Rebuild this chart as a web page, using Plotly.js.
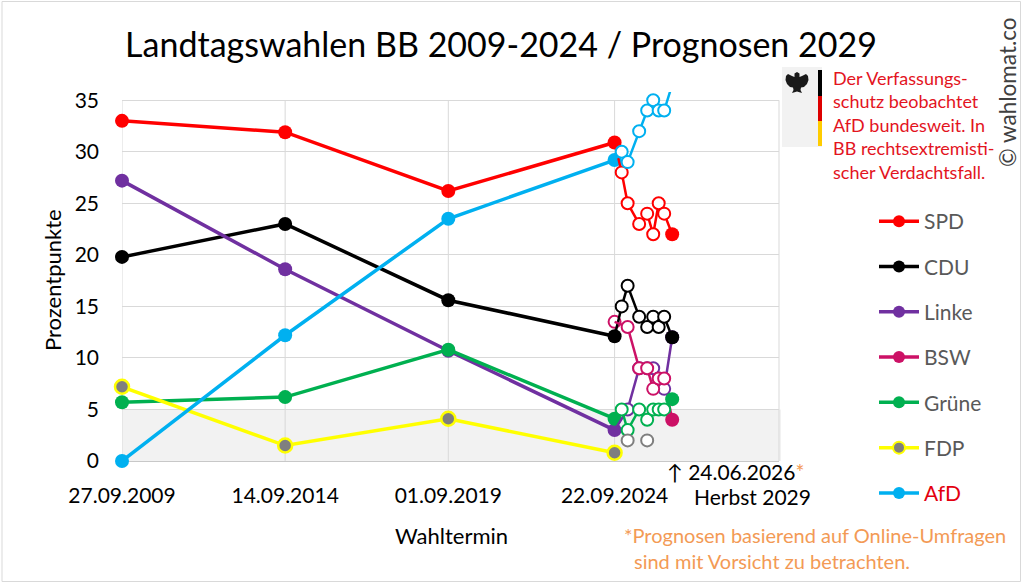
<!DOCTYPE html>
<html><head><meta charset="utf-8">
<script src="https://cdn.plot.ly/plotly-3.0.1.min.js"></script>
<style>html,body{margin:0;padding:0;background:#fff}#chart{width:1024px;height:584px}</style>
</head><body><div id="chart"></div>
<script>
// ---------- data ----------
const electionDates = ['2009-09-27','2014-09-14','2019-09-01','2024-09-22'];
const electionLabels = ['27.09.2009','14.09.2014','01.09.2019','22.09.2024'];
const pollDates = ['2024-12-10','2025-02-14','2025-06-22','2025-09-19','2025-11-25','2026-01-25','2026-03-27'];
const forecastDate = '2026-06-24';
const forecastLabel = '24.06.2026';
const endLabel = 'Herbst 2029';

const spdResults   = [33.0, 31.9, 26.2, 30.9];
const spdPolls     = [28, 25, 23, 24, 22, 25, 24];
const spdForecast  = 22;

const cduResults   = [19.8, 23.0, 15.6, 12.1];
const cduPolls     = [15, 17, 14, 13, 14, 13, 14];
const cduForecast  = 12;

const linkeResults = [27.2, 18.6, 10.7, 3.0];
const linkePolls   = [null, 5, 9, 9, 9, 8, 7];
const linkeForecast = 12;

const bswResults   = [null, null, null, 13.5];
const bswPolls     = [null, 13, 9, 9, 7, 8, 8];
const bswForecast  = 4;

const grueneResults = [5.7, 6.2, 10.8, 4.1];
const gruenePolls   = [5, 3, 5, 4, 5, 5, 5];
const grueneForecast = 6;

const fdpResults   = [7.2, 1.5, 4.1, 0.8];
const fdpPolls     = [null, 2, null, 2, null, null, null];
const fdpForecast  = null;

const afdResults   = [0, 12.2, 23.5, 29.2];
const afdPolls     = [30, 29, 32, 34, 35, 34, 34];
const afdForecast  = 36.5;

const partyNames = ['SPD','CDU','Linke','BSW','Grüne','FDP','AfD'];

// ---------- styles ----------
const style = {
  'SPD':   {line:'#FF0000', fill:'#FF0000', edge:'#FF0000'},
  'CDU':   {line:'#000000', fill:'#000000', edge:'#000000'},
  'Linke': {line:'#7030A0', fill:'#7030A0', edge:'#7030A0'},
  'BSW':   {line:'#CC1166', fill:'#CC1166', edge:'#CC1166', openResult:true},
  'Grüne': {line:'#00B050', fill:'#00B050', edge:'#00B050'},
  'FDP':   {line:'#FFFF00', fill:'#7F7F7F', edge:'#FFFF00', pollEdge:'#7F7F7F', noPollLine:true},
  'AfD':   {line:'#00B0F0', fill:'#00B0F0', edge:'#00B0F0', legendText:'#E3000F'}
};
const series = {
  'SPD':   [spdResults, spdPolls, spdForecast],
  'CDU':   [cduResults, cduPolls, cduForecast],
  'Linke': [linkeResults, linkePolls, linkeForecast],
  'BSW':   [bswResults, bswPolls, bswForecast],
  'Grüne': [grueneResults, gruenePolls, grueneForecast],
  'FDP':   [fdpResults, fdpPolls, fdpForecast],
  'AfD':   [afdResults, afdPolls, afdForecast]
};

// ---------- geometry helpers (layout only) ----------
const W = 1024, H = 584, M = {l:122, r:245, t:92, b:123};
const PW = W - M.l - M.r, PH = H - M.t - M.b;
const px = x => (x - M.l) / PW;
const py = y => (H - M.b - y) / PH;
const FONT = 'Lato, "Open Sans", sans-serif';

const traces = [];
// election results
partyNames.forEach(p => {
  const s = style[p], r = series[p][0];
  const open = !!s.openResult;
  traces.push({
    x: electionDates, y: r, type:'scatter', mode:'lines+markers',
    line:{color:s.line, width:3.5},
    marker:{size: open ? 12 : 14, color: open ? '#FFFFFF' : s.fill,
            line:{color: s.edge, width: open ? 2 : (p==='FDP'?2.5:0)}},
    cliponaxis:false, showlegend:false, hoverinfo:'skip'
  });
});
// poll connecting lines
partyNames.forEach(p => {
  const s = style[p], [r, polls, f] = series[p];
  if (s.noPollLine) return;
  traces.push({
    x: [electionDates[3]].concat(pollDates, [forecastDate]),
    y: [r[3]].concat(polls, [f]),
    type:'scatter', mode:'lines', connectgaps:true,
    line:{color:s.line, width:2.5}, showlegend:false, hoverinfo:'skip'
  });
});
// poll markers (open)
partyNames.forEach(p => {
  const s = style[p], polls = series[p][1];
  traces.push({
    x: pollDates, y: polls, type:'scatter', mode:'markers',
    marker:{size:12, color:'#FFFFFF', line:{color: s.pollEdge || s.edge, width:2}},
    cliponaxis:true, showlegend:false, hoverinfo:'skip'
  });
});
// forecasts (filled)
['Linke','SPD','CDU','BSW','Grüne','FDP','AfD'].forEach(p => {
  const s = style[p], f = series[p][2];
  if (f === null) return;
  traces.push({
    x:[forecastDate], y:[f], type:'scatter', mode:'markers',
    marker:{size:14, color:s.fill}, cliponaxis:true, showlegend:false, hoverinfo:'skip'
  });
});
// legend entries
partyNames.forEach(p => {
  const s = style[p];
  traces.push({
    x:[null], y:[null], type:'scatter', mode:'lines+markers',
    name: s.legendText ? '<span style="color:'+s.legendText+'">'+p+'</span>' : p,
    legendgroup:p,
    line:{color:s.line, width:3.5},
    marker:{size:12, color:s.fill, line:{color:s.edge, width: p==='FDP'?2:0}}
  });
});

// ---------- shapes ----------
const shapes = [];
shapes.push({type:'rect', xref:'paper', yref:'y', x0:0, x1:1.003, y0:0, y1:5,
             fillcolor:'#F2F2F2', line:{width:0}, layer:'below'});
electionDates.forEach(d => shapes.push({type:'line', xref:'x', yref:'y', x0:d, x1:d, y0:0, y1:35,
             line:{color:'#D9D9D9', width:1}, layer:'below'}));
shapes.push({type:'line', xref:'paper', yref:'y', x0:1, x1:1, y0:0, y1:35,
             line:{color:'#D9D9D9', width:1}, layer:'below'});
// badge: panel, flag bar, eagle
const rectPx = (x0,y0,x1,y1,fill) => ({type:'rect', xref:'paper', yref:'paper',
   x0:px(x0), x1:px(x1), y0:py(y1), y1:py(y0), fillcolor:fill, line:{width:0}, layer:'above'});
shapes.push(rectPx(782,67,822,147,'#F2F2F2'));
shapes.push(rectPx(818,70,822,96,'#000000'));
shapes.push(rectPx(818,96,822,121,'#DD0000'));
shapes.push(rectPx(818,121,822,146,'#FFCC00'));
const eaglePts = [[797,72],[799.5,73.5],[799.5,77],[802,76],[806,74],[808,76],[808.5,80],[807,84],[804,87],[801,87.5],[800.5,90],[802,93],[797,91.5],[792,93],[793.5,90],[793,87.5],[790,87],[787,84],[785.5,80],[786,76],[788,74],[792,76],[794.5,77],[794.5,73.5]];
shapes.push({type:'path', xref:'paper', yref:'paper', fillcolor:'#1A1A1A', line:{width:0}, layer:'above',
  path: 'M' + eaglePts.map(q => px(q[0]).toFixed(5)+','+py(q[1]).toFixed(5)).join(' L') + ' Z'});
// outer frame
shapes.push({type:'rect', xref:'paper', yref:'paper', x0:px(2), x1:px(1020.5), y0:py(581.5), y1:py(1.5),
  line:{color:'#D9D9D9', width:1}, fillcolor:'rgba(0,0,0,0)', layer:'above'});

// ---------- annotations ----------
const ann = [];
const A = (o) => ann.push(Object.assign({xref:'paper', yref:'paper', showarrow:false,
   font:{family:FONT, size:21, color:'#000000'}}, o));
A({text:'Prozentpunkte', x:px(52), y:py(280), textangle:-90, xanchor:'center', yanchor:'middle', font:{family:FONT,size:22,color:'#000'}});
A({text:'Wahltermin', x:px(451), y:py(535), xanchor:'center', yanchor:'middle', font:{family:FONT,size:22,color:'#000'}});
A({text:endLabel, x:px(752), y:py(496), xanchor:'center', yanchor:'middle'});
A({text:'↑ '+forecastLabel+'<span style="color:#F39A55">*</span>', xref:'x', x:forecastDate, xshift:-7,
   y:py(471), xanchor:'left', yanchor:'middle'});
A({text:'Der Verfassungs-<br>schutz beobachtet<br>AfD bundesweit. In<br>BB rechtsextremisti-<br>scher Verdachtsfall.',
   x:px(831), y:py(65), xanchor:'left', yanchor:'top', align:'left', font:{family:FONT,size:18,color:'#E3141E'}});
A({text:'© wahlomat.co', x:px(1007), y:py(92), textangle:-90, xanchor:'center', yanchor:'middle', font:{family:FONT,size:22.5,color:'#404040'}});
A({text:'*Prognosen basierend auf Online-Umfragen', x:px(622), y:py(535), xanchor:'left', yanchor:'middle', font:{family:FONT,size:20,color:'#F39A55'}});
A({text:'sind mit Vorsicht zu betrachten.', x:px(632), y:py(561), xanchor:'left', yanchor:'middle', font:{family:FONT,size:20,color:'#F39A55'}});

const layout = {
  width:W, height:H, margin:M, paper_bgcolor:'#FFFFFF', plot_bgcolor:'rgba(0,0,0,0)',
  font:{family:FONT, size:21, color:'#000000'},
  title:{text:'Landtagswahlen BB 2009-2024 / Prognosen 2029', x:501/W, xanchor:'center',
         y:1-45/H, yanchor:'middle', font:{family:FONT, size:34, color:'#000000'}},
  xaxis:{type:'date', range:['2009-09-27','2029-09-23'], tickvals:electionDates, ticktext:electionLabels,
         showgrid:false, zeroline:false, showline:false, ticks:'', ticklabelstandoff:20,
         tickfont:{family:FONT, size:21, color:'#000'}, fixedrange:true},
  yaxis:{range:[0,35.8], tickvals:[0,5,10,15,20,25,30,35], showgrid:true, gridcolor:'#D9D9D9', gridwidth:1,
         zeroline:true, zerolinecolor:'#C8C8C8', zerolinewidth:1, showline:false, ticks:'',
         ticklabelstandoff:22, tickfont:{family:FONT, size:21, color:'#000'}, fixedrange:true},
  showlegend:true,
  legend:{x:px(874), y:py(201), xanchor:'left', yanchor:'top', traceorder:'grouped', tracegroupgap:15,
          font:{family:FONT, size:21, color:'#595959'}, bgcolor:'rgba(0,0,0,0)', itemwidth:40},
  shapes:shapes, annotations:ann, hovermode:false
};
Plotly.newPlot('chart', traces, layout, {staticPlot:true, displayModeBar:false});
</script></body></html>
